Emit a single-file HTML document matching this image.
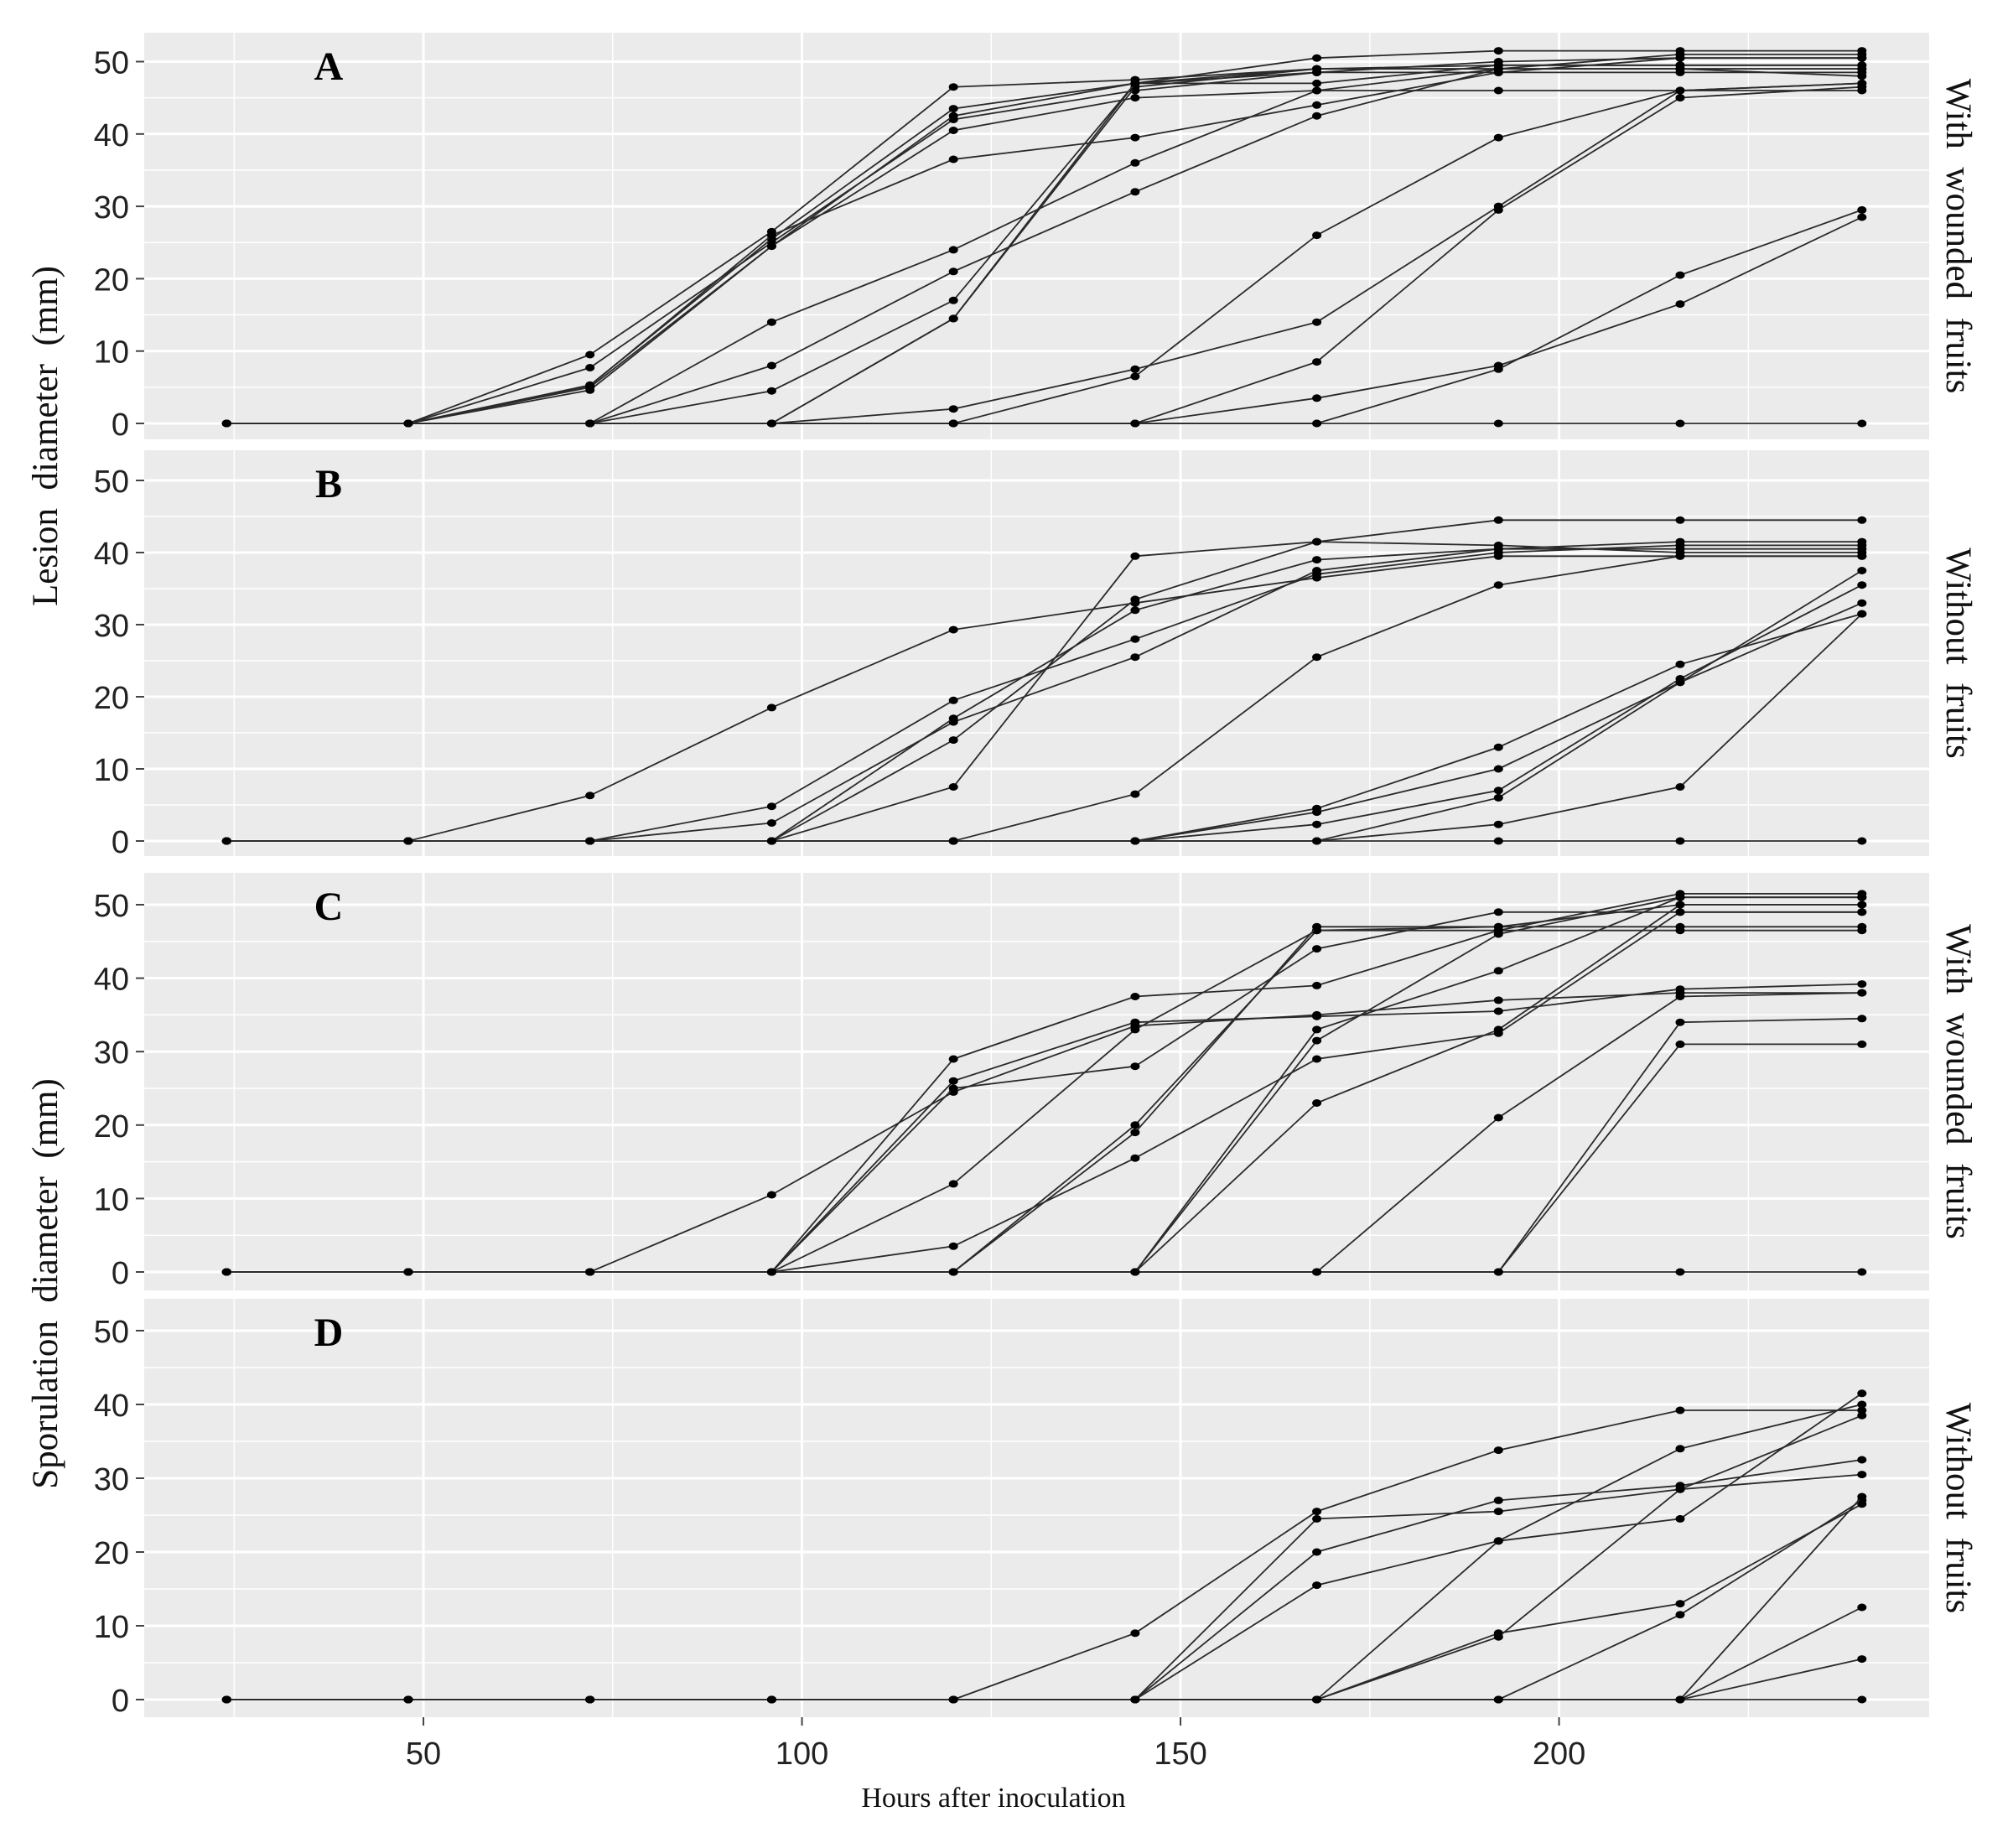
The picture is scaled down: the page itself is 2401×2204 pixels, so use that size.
<!DOCTYPE html>
<html><head><meta charset="utf-8"><style>
html,body{margin:0;padding:0;background:#fff;}
svg{display:block;}
</style></head><body>
<svg id="s" width="2401" height="2204" xmlns="http://www.w3.org/2000/svg"></svg>
<script>
const S=document.getElementById('s');
const H=[24,48,72,96,120,144,168,192,216,240];
function X(h){return 487+(h-48)*9.03;}
const L=172,R=2301;
const panels=[
 {t:39,b:524,y0:505,k:8.63,lab:'A',strip:'With  wounded  fruits',data:[
  [0,0,9.5,26.5,46.5,47.5,49,49,49,49],
  [0,0,7.7,25,42,46,48.5,50,50.5,50.5],
  [0,0,5.3,25.5,43.5,47,50.5,51.5,51.5,51.5],
  [0,0,5,24.5,42.5,47,49,49.5,49.5,49.5],
  [0,0,4.6,24.5,40.5,45,46,46,46,46],
  [0,0,5.2,26,36.5,39.5,44,48.5,48.5,48.5],
  [0,0,0,14,24,36,46,49,49,49],
  [0,0,0,8,21,32,42.5,49,49,48],
  [0,0,0,4.5,17,47,48.5,48.5,50.5,50.5],
  [0,0,0,0,14.5,46.5,49,49,51,51],
  [0,0,0,0,14.5,47,47,49.5,49.5,49.5],
  [0,0,0,0,2,7.5,14,30,46,47],
  [0,0,0,0,0,6.5,26,39.5,46,47],
  [0,0,0,0,0,0,8.5,29.5,45,46.5],
  [0,0,0,0,0,0,3.5,8,16.5,28.5],
  [0,0,0,0,0,0,0,7.5,20.5,29.5],
  [0,0,0,0,0,0,0,0,0,0]]},
 {t:537,b:1021,y0:1003,k:8.6,lab:'B',strip:'Without  fruits',data:[
  [0,0,6.3,18.5,29.3,33,36.5,39.5,39.5,39.5],
  [0,0,0,4.8,19.5,28,37,40,41,41],
  [0,0,0,2.5,16.5,25.5,37.5,40.5,40.5,40.5],
  [0,0,0,0,17,32,39,40.5,41.5,41.5],
  [0,0,0,0,14,33.5,41.5,44.5,44.5,44.5],
  [0,0,0,0,7.5,39.5,41.5,41,40,40],
  [0,0,0,0,0,6.5,25.5,35.5,39.5,39.5],
  [0,0,0,0,0,0,4.5,13,24.5,31.5],
  [0,0,0,0,0,0,4,10,22,33],
  [0,0,0,0,0,0,2.3,7,22.5,35.5],
  [0,0,0,0,0,0,0,6,22,37.5],
  [0,0,0,0,0,0,0,2.3,7.5,31.5],
  [0,0,0,0,0,0,0,0,0,0]]},
 {t:1041,b:1539,y0:1517,k:8.76,lab:'C',strip:'With  wounded  fruits',data:[
  [0,0,0,10.5,24.5,33.5,35,37,38,38],
  [0,0,0,0,29,37.5,39,46.5,46.5,46.5],
  [0,0,0,0,26,34,34.8,35.5,38.5,39.2],
  [0,0,0,0,25,28,44,49,49,49],
  [0,0,0,0,12,33,46.5,47,50,50],
  [0,0,0,0,3.5,15.5,29,32.5,49,49],
  [0,0,0,0,0,20,46.5,46.5,51.5,51.5],
  [0,0,0,0,0,19,47,47,47,47],
  [0,0,0,0,0,0,33,41,51,51],
  [0,0,0,0,0,0,31.5,46,51,51],
  [0,0,0,0,0,0,23,33,50,50],
  [0,0,0,0,0,0,0,21,37.5,38],
  [0,0,0,0,0,0,0,0,34,34.5],
  [0,0,0,0,0,0,0,0,31,31],
  [0,0,0,0,0,0,0,0,0,0]]},
 {t:1549,b:2048,y0:2027,k:8.8,lab:'D',strip:'Without  fruits',data:[
  [0,0,0,0,0,9,25.5,33.8,39.2,39.2],
  [0,0,0,0,0,0,24.5,25.5,28.5,30.5],
  [0,0,0,0,0,0,20,27,29,32.5],
  [0,0,0,0,0,0,15.5,21.5,24.5,41.5],
  [0,0,0,0,0,0,0,21.5,34,40],
  [0,0,0,0,0,0,0,9,13,26.5],
  [0,0,0,0,0,0,0,8.5,28.5,38.5],
  [0,0,0,0,0,0,0,0,11.5,27],
  [0,0,0,0,0,0,0,0,0,12.5],
  [0,0,0,0,0,0,0,0,0,5.5],
  [0,0,0,0,0,0,0,0,0,27.5],
  [0,0,0,0,0,0,0,0,0,0]]}
];
let o='';
for(const p of panels){
 o+=`<rect x="${L}" y="${p.t}" width="${R-L}" height="${p.b-p.t}" fill="#ebebeb"/>`;
 const Y=v=>p.y0-v*p.k;
 for(let v=5;v<=55;v+=10){const y=Y(v);if(y>p.t)o+=`<line x1="${L}" x2="${R}" y1="${y}" y2="${y}" stroke="#fff" stroke-width="1.5"/>`;}
 for(const h of [25,75,125,175,225])o+=`<line x1="${X(h)}" x2="${X(h)}" y1="${p.t}" y2="${p.b}" stroke="#fff" stroke-width="1.5"/>`;
 for(let v=0;v<=50;v+=10){const y=Y(v);o+=`<line x1="${L}" x2="${R}" y1="${y}" y2="${y}" stroke="#fff" stroke-width="3"/><line x1="162" x2="172" y1="${y}" y2="${y}" stroke="#444" stroke-width="2"/><text x="154" y="${y+14}" text-anchor="end" font-family="Liberation Sans,sans-serif" font-size="38" fill="#222">${v}</text>`;}
 for(const h of [50,100,150,200])o+=`<line x1="${X(h)}" x2="${X(h)}" y1="${p.t}" y2="${p.b}" stroke="#fff" stroke-width="3"/>`;
 for(const d of p.data){
  o+=`<polyline fill="none" stroke="#2a2a2a" stroke-width="1.8" points="${d.map((v,i)=>X(H[i]).toFixed(1)+','+Y(v).toFixed(1)).join(' ')}"/>`;
  for(let i=0;i<d.length;i++)o+=`<ellipse cx="${X(H[i]).toFixed(1)}" cy="${Y(d[i]).toFixed(1)}" rx="5.5" ry="4.5" fill="#000"/>`;
 }
 o+=`<text x="392" y="${p.t+56}" text-anchor="middle" font-family="Liberation Serif,serif" font-weight="bold" font-size="48">${p.lab}</text>`;
 const cy=(p.t+p.b)/2;
 o+=`<text transform="translate(2322,${cy}) rotate(90)" text-anchor="middle" font-family="Liberation Serif,serif" font-size="43" fill="#111" xml:space="preserve">${p.strip}</text>`;
}
for(const h of [50,100,150,200]){o+=`<line x1="${X(h)}" x2="${X(h)}" y1="2048" y2="2058" stroke="#444" stroke-width="2"/><text x="${X(h)}" y="2104" text-anchor="middle" font-family="Liberation Sans,sans-serif" font-size="38" fill="#222">${h}</text>`;}
o+=`<text x="1185" y="2155" text-anchor="middle" font-family="Liberation Serif,serif" font-size="34" fill="#111">Hours after inoculation</text>`;
o+=`<text transform="translate(68,520) rotate(-90)" text-anchor="middle" font-family="Liberation Serif,serif" font-size="43" fill="#111" xml:space="preserve">Lesion  diameter  (mm)</text>`;
o+=`<text transform="translate(68,1531) rotate(-90)" text-anchor="middle" font-family="Liberation Serif,serif" font-size="43" fill="#111" xml:space="preserve">Sporulation  diameter  (mm)</text>`;
S.innerHTML=o;
</script>
</body></html>
